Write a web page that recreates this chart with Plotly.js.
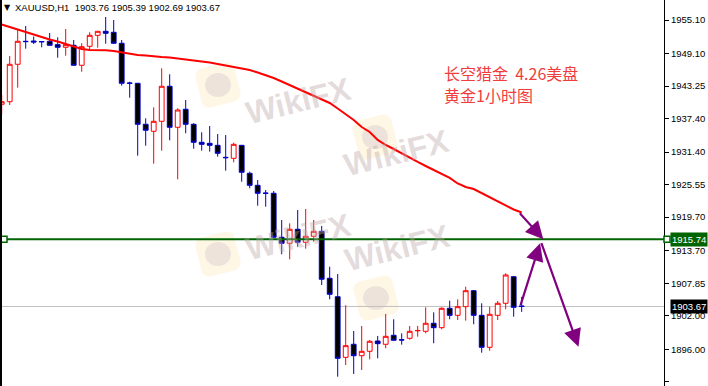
<!DOCTYPE html>
<html><head><meta charset="utf-8">
<script src="https://cdn.plot.ly/plotly-3.0.1.min.js"></script>
<style>html,body{margin:0;padding:0;background:#fff;overflow:hidden}#chart{width:708px;height:386px}</style>
</head><body><div id="chart"></div>
<script>
// ---------- data ----------
const symbolTitle = "XAUUSD,H1";
const lastBarOHLC = ["1903.76", "1905.39", "1902.69", "1903.67"];

const openP = [1939.97,1940.43,1947.15,1951.28,1951.33,1951.24,1951.28,1950.67,1950.20,1950.56,
  1946.97,1950.38,1952.35,1953.07,1952.89,1950.92,1943.79,1943.74,1936.38,1935.12,
  1936.91,1943.20,1935.84,1939.07,1936.38,1933.14,1932.96,1932.60,1930.45,1930.27,
  1932.60,1927.58,1925.42,1924.04,1923.99,1916.09,1915.01,1917.53,1915.19,1916.27,
  1917.16,1908.73,1905.42,1894.54,1896.88,1894.83,1895.62,1897.47,1896.88,1898.49,
  1897.69,1897.96,1899.30,1899.21,1900.65,1899.86,1903.34,1902.08,1903.63,1906.50,
  1902.08,1896.34,1902.08,1904.24,1909.01,1903.76];
const highP = [1941.64,1948.64,1953.48,1954.02,1952.14,1951.28,1952.77,1951.99,1953.48,1951.51,
  1950.92,1952.89,1953.13,1955.64,1955.10,1951.51,1944.02,1943.79,1937.45,1939.43,
  1946.43,1945.35,1939.25,1940.74,1936.56,1934.94,1936.07,1934.63,1934.45,1933.07,
  1932.66,1927.87,1926.38,1924.58,1924.40,1919.20,1918.60,1920.99,1921.17,1919.20,
  1918.12,1910.81,1909.50,1903.88,1899.27,1900.16,1897.65,1898.37,1902.32,1901.37,
  1898.85,1900.16,1900.16,1903.52,1902.62,1903.52,1904.71,1904.96,1907.22,1906.63,
  1904.24,1903.63,1904.65,1909.62,1909.14,1905.39];
const lowP = [1938.17,1939.84,1942.95,1949.95,1950.79,1950.20,1950.52,1948.33,1948.69,1946.93,
  1945.82,1949.84,1950.13,1950.84,1950.88,1943.31,1941.15,1930.74,1932.53,1929.30,
  1931.64,1933.50,1926.50,1934.76,1931.99,1931.64,1931.46,1930.56,1928.05,1929.55,
  1926.07,1924.88,1921.76,1921.58,1915.91,1913.04,1912.14,1914.40,1914.04,1915.30,
  1907.52,1904.96,1891.06,1893.16,1891.55,1892.26,1894.18,1894.36,1896.16,1897.56,
  1896.81,1897.71,1898.24,1898.85,1897.06,1899.57,1901.37,1901.24,1901.12,1900.47,
  1895.37,1895.73,1901.24,1903.16,1901.83,1902.69];
const closeP = [1940.43,1947.15,1951.28,1951.22,1951.15,1951.19,1950.56,1950.20,1950.67,1946.97,
  1950.31,1952.35,1953.07,1952.71,1950.92,1943.74,1943.74,1936.38,1935.30,1936.91,
  1943.20,1935.84,1938.94,1936.38,1933.14,1932.78,1932.60,1931.17,1930.38,1932.78,
  1927.76,1925.42,1923.99,1923.98,1916.09,1915.01,1917.53,1915.19,1916.27,1917.16,
  1908.55,1905.85,1894.36,1896.63,1894.83,1895.62,1897.42,1896.99,1898.31,1897.60,
  1897.65,1899.21,1899.36,1900.65,1899.86,1903.34,1902.08,1903.63,1906.50,1902.08,
  1896.34,1902.26,1904.24,1909.32,1903.52,1903.67];
const maValues = [1954.29,1953.84,1953.39,1952.95,1952.41,1951.96,1951.60,1951.24,1950.79,1950.34,
  1949.89,1949.71,1949.70,1949.68,1949.54,1949.27,1949.00,1948.82,1948.73,1948.55,
  1948.46,1948.37,1948.19,1948.01,1947.83,1947.74,1947.47,1947.20,1946.93,1946.75,
  1946.48,1946.12,1945.68,1945.23,1944.69,1944.06,1943.43,1942.80,1942.09,1941.55,
  1940.92,1940.20,1939.21,1938.23,1937.15,1935.89,1935.00,1933.56,1932.66,1931.94,
  1931.14,1930.33,1929.61,1928.89,1928.17,1927.46,1926.74,1925.75,1925.12,1924.76,
  1924.05,1923.33,1922.61,1921.89,1921.08,1920.55];

const tickValues = [1955.10,1949.10,1943.25,1937.40,1931.40,1925.55,1919.70,1913.70,1907.85,1902.00,1896.00,1890.15];
const tickLabels = ["1955.10","1949.10","1943.25","1937.40","1931.40","1925.55","1919.70","1913.70","1907.85","1902.00","1896.00","1890.15"];

const resistanceLevel = 1915.74;
const resistanceLabel = "1915.74";
const bidLevel = 1903.67;
const bidLabel = "1903.67";

const noteLines = ["长空猎金\u00a0\u00a04.26美盘", "黄金1小时图"];
// arrows: [tailBar, tailPrice, tipBar, tipPrice]
const arrowTails = [[64.6, 1920.69], [64.8, 1903.63], [67.4, 1915.3]];
const arrowTips  = [[67.7, 1915.73], [67.3, 1915.0],  [72.1, 1896.45]];

// ---------- layout constants ----------
const W = 708, H = 386, PW = 664;
const barIndex = openP.map((_, i) => i);
const BLUE = '#0000cd', RED = '#ff0000', GREEN = '#006400', PURPLE = '#800080';
const FONT = 'Liberation Sans, Arial, sans-serif';

const candles = {
  type: 'candlestick', x: barIndex, open: openP, high: highP, low: lowP, close: closeP,
  increasing: {line: {color: RED, width: 1}, fillcolor: '#ffffff'},
  decreasing: {line: {color: BLUE, width: 1}, fillcolor: '#000000'},
  whiskerwidth: 0, hoverinfo: 'skip', showlegend: false
};
const ma = {
  type: 'scatter', mode: 'lines', x: barIndex, y: maValues,
  line: {color: RED, width: 2}, hoverinfo: 'skip', showlegend: false
};

// watermark helpers (pixel -> paper)
const px = v => v / PW, py = v => 1 - v / H;
function logoPath(cx, cy, s, ang) {
  const r = 8, h = s / 2, a = ang * Math.PI / 180, pts = [];
  const corners = [[h - r, -h + r, -90], [h - r, h - r, 0], [-h + r, h - r, 90], [-h + r, -h + r, 180]];
  corners.forEach(([ox, oy, st]) => {
    for (let k = 0; k <= 6; k++) {
      const t = (st + k * 15) * Math.PI / 180;
      pts.push([ox + r * Math.cos(t), oy + r * Math.sin(t)]);
    }
  });
  return 'M' + pts.map(([x, y]) => {
    const X = cx + x * Math.cos(a) - y * Math.sin(a);
    const Y = cy + x * Math.sin(a) + y * Math.cos(a);
    return px(X).toFixed(5) + ',' + py(Y).toFixed(5);
  }).join('L') + 'Z';
}
const watermarks = [[218, 85], [375, 137], [218, 254], [376, 298]];

const shapes = [];
watermarks.forEach(([cx, cy]) => {
  shapes.push({type: 'path', xref: 'paper', yref: 'paper', path: logoPath(cx, cy, 40, -14),
    fillcolor: 'rgba(255,226,160,0.28)', line: {width: 0}, layer: 'below'});
  shapes.push({type: 'circle', xref: 'paper', yref: 'paper',
    x0: px(cx - 13), x1: px(cx + 13), y0: py(cy + 12), y1: py(cy - 12),
    fillcolor: 'rgba(175,160,180,0.22)', line: {width: 0}, layer: 'below'});
});
shapes.push(
  {type: 'line', xref: 'paper', yref: 'y', x0: 0, x1: 1, y0: bidLevel, y1: bidLevel,
   line: {color: '#c0c0c0', width: 1}, layer: 'below'},
  {type: 'line', xref: 'paper', yref: 'y', x0: 0, x1: 1, y0: resistanceLevel, y1: resistanceLevel,
   line: {color: GREEN, width: 2}, layer: 'above'},
  {type: 'rect', xref: 'paper', xsizemode: 'pixel', xanchor: 0, x0: 1, x1: 7,
   yref: 'y', ysizemode: 'pixel', yanchor: resistanceLevel, y0: -3, y1: 3,
   fillcolor: '#ffffff', line: {color: GREEN, width: 1.5}, layer: 'above'},
  {type: 'rect', xref: 'paper', xsizemode: 'pixel', xanchor: 1, x0: 0, x1: 6,
   yref: 'y', ysizemode: 'pixel', yanchor: resistanceLevel, y0: -3, y1: 3,
   fillcolor: '#ffffff', line: {color: GREEN, width: 1.5}, layer: 'above'},
  {type: 'line', xref: 'paper', yref: 'paper', x0: px(1), x1: px(1), y0: 0, y1: 1,
   line: {color: '#000000', width: 2}}
);

const annotations = [];
watermarks.forEach(([cx, cy]) => {
  annotations.push({xref: 'paper', yref: 'paper', x: px(cx + 80), y: py(cy - 17),
    text: 'WikiFX', showarrow: false, textangle: -14,
    font: {family: FONT, size: 32, weight: 'bold', color: 'rgba(190,170,170,0.42)'}});
});
annotations.push(
  {xref: 'paper', yref: 'paper', x: 0, y: 1, xanchor: 'left', yanchor: 'top', xshift: 2, yshift: -1,
   text: '▼', showarrow: false, font: {family: 'DejaVu Sans', size: 8, color: '#000'}},
  {xref: 'paper', yref: 'paper', x: 0, y: 1, xanchor: 'left', yanchor: 'top', xshift: 13, yshift: 0,
   text: symbolTitle + '\u00a0\u00a0' + lastBarOHLC.join(' '), showarrow: false,
   font: {family: FONT, size: 9.5, color: '#000'}},
  {xref: 'paper', yref: 'paper', x: px(442), y: py(73), xanchor: 'left', yanchor: 'middle',
   text: noteLines[0], showarrow: false, font: {family: 'Noto Sans CJK SC', size: 16, color: '#f23c3c'}},
  {xref: 'paper', yref: 'paper', x: px(442), y: py(95), xanchor: 'left', yanchor: 'middle',
   text: noteLines[1], showarrow: false, font: {family: 'Noto Sans CJK SC', size: 16, color: '#f23c3c'}},
  {xref: 'paper', yref: 'y', x: 1, y: resistanceLevel, xanchor: 'left', xshift: 6,
   text: resistanceLabel, showarrow: false, bgcolor: GREEN, borderpad: 1,
   font: {family: FONT, size: 9.5, color: '#ffffff'}},
  {xref: 'paper', yref: 'y', x: 1, y: bidLevel, xanchor: 'left', xshift: 6,
   text: bidLabel, showarrow: false, bgcolor: '#000000', borderpad: 1,
   font: {family: FONT, size: 9.5, color: '#ffffff'}}
);
arrowTips.forEach((tip, k) => {
  annotations.push({xref: 'x', yref: 'y', axref: 'x', ayref: 'y',
    x: tip[0], y: tip[1], ax: arrowTails[k][0], ay: arrowTails[k][1],
    text: '', showarrow: true, arrowhead: 2, arrowsize: 1.6, arrowwidth: 2.2, arrowcolor: PURPLE});
});

const layout = {
  width: W, height: H, margin: {l: 0, r: W - PW, t: 0, b: 0},
  paper_bgcolor: '#ffffff', plot_bgcolor: '#ffffff', showlegend: false,
  boxgap: 0.4, boxgroupgap: 0,
  xaxis: {range: [-0.2125, 82.79], showgrid: false, zeroline: false, showticklabels: false,
    ticks: '', showline: false, rangeslider: {visible: false}, fixedrange: true},
  yaxis: {range: [1889.39, 1958.69], side: 'right', showgrid: false, zeroline: false,
    showline: true, linecolor: '#000000', linewidth: 1, ticks: 'outside', ticklen: 4,
    tickcolor: '#000000', tickvals: tickValues, ticktext: tickLabels,
    tickfont: {family: FONT, size: 9.5, color: '#000000'}, fixedrange: true},
  shapes: shapes, annotations: annotations
};
Plotly.newPlot('chart', [candles, ma], layout, {staticPlot: true, displayModeBar: false});
</script></body></html>
